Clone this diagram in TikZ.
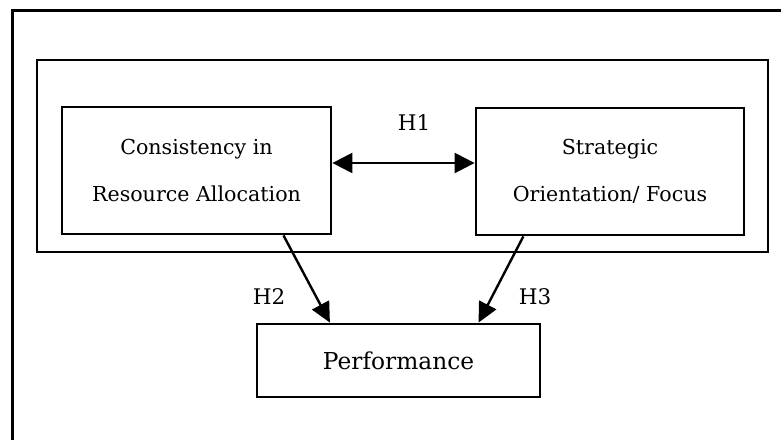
\documentclass[tikz,border=0pt]{standalone}
\usepackage{fontspec}
\setmainfont{DejaVu Serif}
\usetikzlibrary{arrows.meta,calc}
\begin{document}
\begin{tikzpicture}[x=1pt,y=-1pt,
  box/.style={draw,line width=2.8pt,inner sep=0pt,align=center,
    font=\fontsize{20.6}{47}\selectfont},
  lbl/.style={inner sep=0pt,font=\fontsize{21.5}{24}\selectfont},
  arr/.style={line width=2.4pt,-{Triangle[length=20pt,width=19pt]}},
  darr/.style={line width=2.4pt,{Triangle[length=20pt,width=20pt]}-{Triangle[length=20pt,width=20pt]}}]
\useasboundingbox (0,0) rectangle (781,439);
% outer frame (cropped)
\coordinate (ob) at (12,440);
\coordinate (otl) at (12,10);
\coordinate (otr) at (782,10);
\draw[line width=3pt] (ob) -- (otl) -- (otr);
% inner container
\node[draw,line width=2.8pt,minimum width=731pt,minimum height=192pt] (cont) at (402.5,156) {};
% boxes
\node[box,minimum width=269pt,minimum height=127pt] (lb) at (196.5,170.5) {Consistency in\\Resource Allocation};
\node[box,minimum width=268pt,minimum height=127pt] (rb) at (610,171.5) {Strategic\\Orientation/ Focus};
\node[box,minimum width=283pt,minimum height=73pt,font=\fontsize{23.3}{26}\selectfont] (pf) at (398.5,360.5) {Performance};
% connectors
\coordinate (h1y) at (0,163);
\draw[darr] (lb.east |- h1y) -- (rb.west |- h1y);
\draw[arr] ($(lb.south west)!0.82!(lb.south east)$) -- ($(pf.north west)!0.26!(pf.north east)$);
\draw[arr] ($(rb.south west)!0.18!(rb.south east)$) -- ($(pf.north west)!0.78!(pf.north east)$);
% labels
\node[lbl] (h1) at (414,123) {H1};
\node[lbl] (h2) at (269,297) {H2};
\node[lbl] (h3) at (535,297) {H3};
\end{tikzpicture}
\end{document}
